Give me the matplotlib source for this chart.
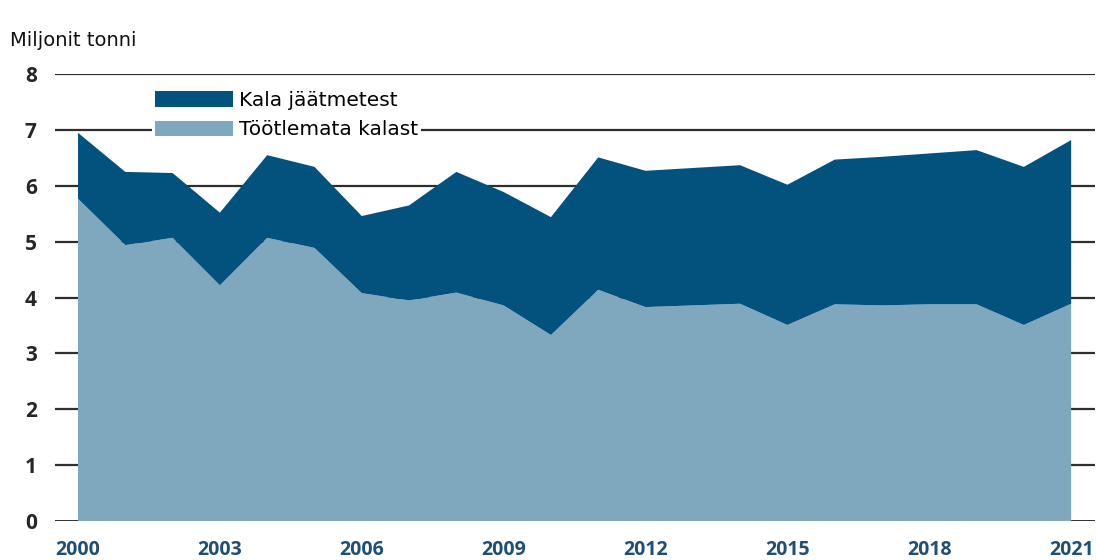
import matplotlib.pyplot as plt
from matplotlib.patches import Patch

# Kalajahu tootmine, miljonit tonni
years = list(range(2000, 2022))
tootlemata_kalast = [5.77, 4.94, 5.07, 4.22, 5.07, 4.89, 4.08, 3.95, 4.09, 3.86, 3.33,
                     4.14, 3.83, 3.86, 3.89, 3.51, 3.88, 3.86, 3.88, 3.88, 3.51, 3.89]
kala_jaatmetest = [1.18, 1.31, 1.16, 1.30, 1.48, 1.45, 1.38, 1.70, 2.16, 2.03, 2.11,
                   2.37, 2.44, 2.46, 2.48, 2.51, 2.59, 2.66, 2.70, 2.76, 2.83, 2.93]
xticks = [2000, 2003, 2006, 2009, 2012, 2015, 2018, 2021]
yticks = list(range(0, 9))

DARK = "#03527e"
LIGHT = "#7fa8bf"

fig = plt.figure(figsize=(10.97, 5.6), dpi=100)
ax = fig.add_axes([0.050, 0.0696, 0.948, 0.798])

for y in yticks:
    ax.axhline(y, color="#1e1e1e" if y == 0 else "#2e2e2e",
               lw=2.0 if y == 0 else 1.6, zorder=1)

ax.stackplot(years, tootlemata_kalast, kala_jaatmetest,
             colors=[LIGHT, DARK], lw=0, zorder=2)

ax.set_xlim(1999.51, 2021.5)
ax.set_ylim(0, 8)
ax.set_xticks(xticks)
ax.set_yticks(yticks)
for s in ax.spines.values():
    s.set_visible(False)
ax.tick_params(axis="both", length=0)
ax.tick_params(axis="y", pad=13)
ax.tick_params(axis="x", pad=14)
for lab in ax.get_yticklabels():
    lab.set_fontfamily("Open Sans")
    lab.set_fontweight("bold")
    lab.set_fontsize(15)
    lab.set_color("#262626")
for lab in ax.get_xticklabels():
    lab.set_fontfamily("Open Sans")
    lab.set_fontweight("bold")
    lab.set_fontsize(14)
    lab.set_color("#1f4f74")

fig.text(10 / 1097, 1 - 40 / 560, "Miljonit tonni", fontsize=14,
         va="center", ha="left", color="#111111")

handles = [Patch(facecolor=DARK, edgecolor="none", label="Kala jäätmetest"),
           Patch(facecolor=LIGHT, edgecolor="none", label="Töötlemata kalast")]
leg = ax.legend(handles=handles, loc="upper left",
                bbox_to_anchor=(152 / 1097, 1 - 88 / 560),
                bbox_transform=fig.transFigure,
                fontsize=14.5, handlelength=3.85, handleheight=0.8,
                handletextpad=0.3, labelspacing=0.52, borderpad=0.15,
                borderaxespad=0, frameon=True, fancybox=False)
leg.get_frame().set_facecolor("white")
leg.get_frame().set_edgecolor("none")
leg.get_frame().set_alpha(1)
leg.set_zorder(5)

fig.savefig("out.png", dpi=100)
